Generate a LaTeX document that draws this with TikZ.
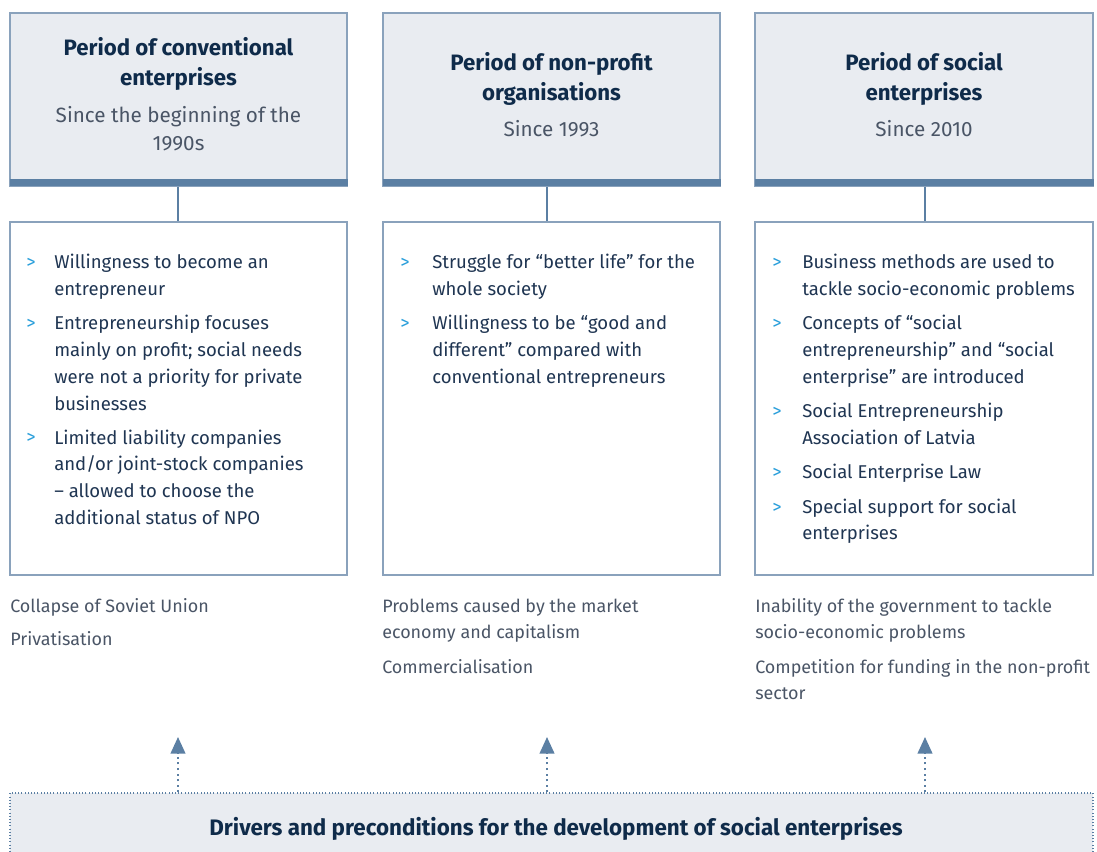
\documentclass[tikz,border=0pt]{standalone}
\usepackage{fontspec}
\setmainfont{Fira Sans}
\usetikzlibrary{arrows.meta}
\definecolor{boxfill}{HTML}{E9ECF1}
\definecolor{boxline}{HTML}{8AA2BC}
\definecolor{barc}{HTML}{5B7FA3}
\definecolor{navy}{HTML}{0F2B4A}
\definecolor{greytxt}{HTML}{4A5566}
\definecolor{bodytxt}{HTML}{1F3552}
\definecolor{chev}{HTML}{2A9FDB}
\tikzset{
  headbox/.style={draw=boxline, line width=0.9pt, fill=boxfill, minimum width=252.75pt, minimum height=129.75pt, inner sep=0pt},
  listbox/.style={draw=boxline, line width=0.9pt, fill=white, minimum width=252.75pt, minimum height=264.75pt, inner sep=0pt},
  titletxt/.style={anchor=base, inner sep=0pt, align=center, text=navy, font=\bfseries\fontsize{16.7}{22.5}\selectfont},
  subtxt/.style={anchor=base, inner sep=0pt, align=center, text=greytxt, font=\fontsize{15.5}{21}\selectfont},
  bodytext/.style={anchor=base west, inner sep=0pt, align=left, text=bodytxt, font=\fontsize{13.9}{20.1}\selectfont},
  chevtxt/.style={anchor=base west, inner sep=0pt, text=chev, font=\fontsize{13.9}{20.1}\selectfont},
  drivertxt/.style={anchor=base west, inner sep=0pt, align=left, text=greytxt, font=\fontsize{13.45}{20.1}\selectfont},
  conn/.style={draw=barc, line width=2pt},
  uparrow/.style={draw=barc, line width=1.6pt, dash pattern=on 1.6pt off 2.6pt, -{Triangle[width=11pt,length=12.5pt]}},
}
\begin{document}
\begin{tikzpicture}[x=0.75pt,y=-0.75pt]
\useasboundingbox (0,0) rectangle (1097,852);
% header boxes
\node[headbox] (h1) at (178.5,99.5) {};
\node[headbox] (h2) at (551.5,99.5) {};
\node[headbox, minimum width=253.5pt] (h3) at (924,99.5) {};
\fill[barc] (9.5,179.5) rectangle (347.5,186);
\fill[barc] (382.5,179.5) rectangle (720.5,186);
\fill[barc] (754.5,179.5) rectangle (1093.5,186);
% list boxes
\node[listbox] (l1) at (178.5,398.5) {};
\node[listbox] (l2) at (551.5,398.5) {};
\node[listbox, minimum width=253.5pt] (l3) at (924,398.5) {};
% connectors
\draw[conn] ([xshift=-0.4pt]h1.south) -- ([xshift=-0.4pt]l1.north);
\draw[conn] ([xshift=-3.4pt]h2.south) -- ([xshift=-3.4pt]l2.north);
\draw[conn] ([xshift=0.75pt]h3.south) -- ([xshift=0.75pt]l3.north);
% header texts (base = last line)
\node[titletxt] (t1) at (178.5,86) {Period of conventional\\enterprises};
\node[subtxt] (s1) at (178.5,151) {Since the beginning of the\\1990s};
\node[titletxt] (t2) at (551.5,101) {Period of non-profit\\organisations};
\node[subtxt] (s2) at (551.5,137) {Since 1993};
\node[titletxt] (t3) at (924,101) {Period of social\\enterprises};
\node[subtxt] (s3) at (924,137) {Since 2010};
% column 1 bullets
\node[chevtxt] (c11) at (26,269) {>};
\node[bodytext] (b11) at (54,295.8) {Willingness to become an\\entrepreneur};
\node[chevtxt] (c12) at (26,330) {>};
\node[bodytext] (b12) at (54,410.4) {Entrepreneurship focuses\\mainly on profit; social needs\\were not a priority for private\\businesses};
\node[chevtxt] (c13) at (26,444) {>};
\node[bodytext] (b13) at (54,524.4) {Limited liability companies\\and/or joint-stock companies\\– allowed to choose the\\additional status of NPO};
% column 2 bullets
\node[chevtxt] (c21) at (400,269) {>};
\node[bodytext] (b21) at (432,295.8) {Struggle for “better life” for the\\whole society};
\node[chevtxt] (c22) at (400,330) {>};
\node[bodytext] (b22) at (432,383.6) {Willingness to be “good and\\different” compared with\\conventional entrepreneurs};
% column 3 bullets
\node[chevtxt] (c31) at (772,269) {>};
\node[bodytext] (b31) at (802,295.8) {Business methods are used to\\tackle socio-economic problems};
\node[chevtxt] (c32) at (772,330) {>};
\node[bodytext] (b32) at (802,383.6) {Concepts of “social\\entrepreneurship” and “social\\enterprise” are introduced};
\node[chevtxt] (c33) at (772,418) {>};
\node[bodytext] (b33) at (802,444.8) {Social Entrepreneurship\\Association of Latvia};
\node[chevtxt] (c34) at (772,479) {>};
\node[bodytext] (b34) at (802,479) {Social Enterprise Law};
\node[chevtxt] (c35) at (772,513) {>};
\node[bodytext] (b35) at (802,539.8) {Special support for social\\enterprises};
% drivers texts
\node[drivertxt] (d11) at (10,612) {Collapse of Soviet Union};
\node[drivertxt] (d12) at (10,645) {Privatisation};
\node[drivertxt] (d21) at (382,638.8) {Problems caused by the market\\economy and capitalism};
\node[drivertxt] (d22) at (382,673) {Commercialisation};
\node[drivertxt] (d31) at (755,638.8) {Inability of the government to tackle\\socio-economic problems};
\node[drivertxt] (d32) at (755,699.8) {Competition for funding in the non-profit\\sector};
% bottom box
\node[draw=barc, line width=0.8pt, dash pattern=on 0.8pt off 1.6pt, fill=boxfill, minimum width=812.25pt, minimum height=48pt, inner sep=0pt] (bot) at (551.5,825) {};
\node[anchor=base, inner sep=0pt, text=navy, font=\bfseries\fontsize{16.8}{20}\selectfont] (bt) at (556,835) {Drivers and preconditions for the development of social enterprises};
\coordinate (a1) at (178,737);
\coordinate (a2) at (547,737);
\coordinate (a3) at (925,737);
\draw[uparrow] (bot.north -| a1) -- (a1);
\draw[uparrow] (bot.north -| a2) -- (a2);
\draw[uparrow] (bot.north -| a3) -- (a3);
\end{tikzpicture}
\end{document}
